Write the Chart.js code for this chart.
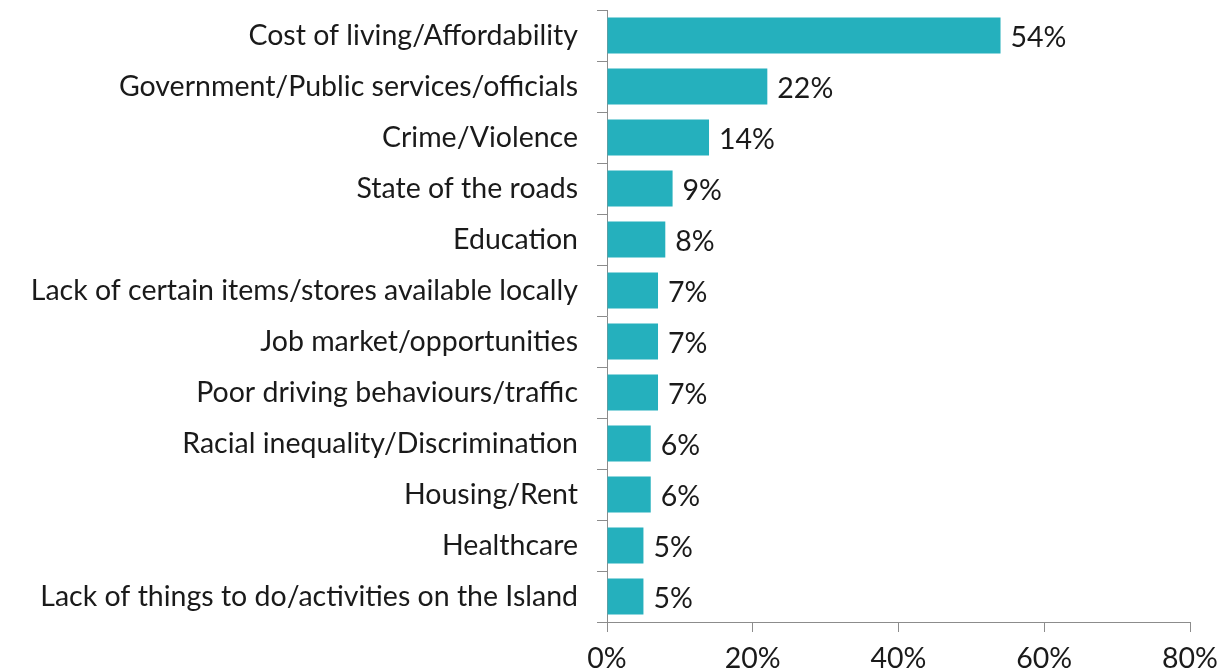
<!DOCTYPE html>
<html>
<head>
<meta charset="utf-8">
<script src="https://cdn.jsdelivr.net/npm/chart.js@4.4.1/dist/chart.umd.min.js"></script>
<style>
  html, body { margin: 0; padding: 0; background: #fff; }
  #wrap { width: 1226px; height: 669px; }
</style>
</head>
<body>
<div id="wrap"><canvas id="issuesChart"></canvas></div>
<script>
const categories = [
  'Cost of living/Affordability',
  'Government/Public services/officials',
  'Crime/Violence',
  'State of the roads',
  'Education',
  'Lack of certain items/stores available locally',
  'Job market/opportunities',
  'Poor driving behaviours/traffic',
  'Racial inequality/Discrimination',
  'Housing/Rent',
  'Healthcare',
  'Lack of things to do/activities on the Island'
];
const shares = [54, 22, 14, 9, 8, 7, 7, 7, 6, 6, 5, 5];
const axisTicks = [0, 20, 40, 60, 80];

const fontFamily = 'Lato, "Open Sans", sans-serif';
const fontSize = 28.5;
const textColor = '#1a1a1a';
const axisColor = '#8c8c8c';

// draws the "54%" labels just past the end of each bar
const valueLabels = {
  id: 'valueLabels',
  afterDatasetsDraw(chart) {
    const ctx = chart.ctx;
    const meta = chart.getDatasetMeta(0);
    ctx.save();
    ctx.font = fontSize + 'px ' + fontFamily;
    ctx.fillStyle = textColor;
    ctx.textAlign = 'left';
    ctx.textBaseline = 'middle';
    meta.data.forEach((bar, i) => {
      ctx.fillText(shares[i] + '%', bar.x + 10, bar.y + 2);
    });
    ctx.restore();
  }
};

new Chart('issuesChart', {
  type: 'bar',
  data: {
    labels: categories,
    datasets: [{
      data: shares,
      backgroundColor: '#25b0bd',
      borderWidth: 0,
      categoryPercentage: 1,
      barPercentage: 0.71
    }]
  },
  options: {
    indexAxis: 'y',
    responsive: true,
    maintainAspectRatio: false,
    animation: false,
    layout: { padding: { top: 10, right: 36, bottom: 0, left: 0 } },
    plugins: {
      legend: { display: false },
      tooltip: { enabled: false }
    },
    scales: {
      x: {
        min: 0,
        max: 80,
        afterBuildTicks(scale) {
          scale.ticks = axisTicks.map((v) => ({ value: v }));
        },
        afterFit(scale) {
          scale.height = 47;
          scale.paddingLeft = 0;
          scale.paddingRight = 0;
        },
        border: { display: true, color: axisColor, width: 1 },
        grid: { drawOnChartArea: false, drawTicks: true, tickLength: 10, color: axisColor },
        ticks: {
          callback: (v) => v + '%',
          color: textColor,
          font: { family: fontFamily, size: fontSize },
          padding: 10,
          maxRotation: 0
        }
      },
      y: {
        afterFit(scale) {
          scale.width = 607;
          scale.paddingTop = 0;
          scale.paddingBottom = 0;
        },
        border: { display: true, color: axisColor, width: 1 },
        grid: { offset: true, drawOnChartArea: false, drawTicks: true, tickLength: 10, color: axisColor },
        ticks: {
          color: textColor,
          font: { family: fontFamily, size: fontSize },
          padding: 19,
          autoSkip: false
        }
      }
    }
  },
  plugins: [valueLabels]
});
</script>
</body>
</html>
